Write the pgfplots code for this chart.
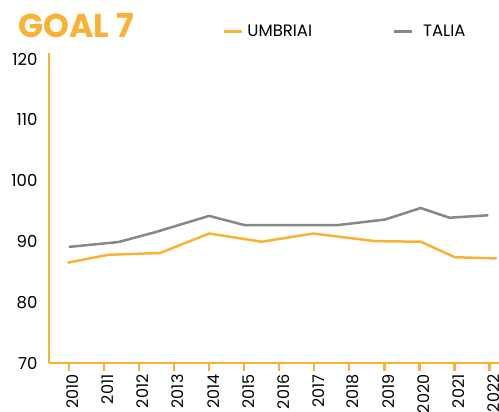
\documentclass[border=0pt]{standalone}
\usepackage{pgfplots}
\pgfplotsset{compat=1.18}
\usepackage{fontspec}
\setmainfont{Poppins}
\definecolor{goalorange}{HTML}{F9B233}
\definecolor{italiagray}{HTML}{878787}

\begin{document}
\begin{tikzpicture}
\begin{axis}[
  at={(0pt,0pt)}, anchor=south west,
  scale only axis,
  width=450pt, height=310pt,
  xmin=-0.571, xmax=12.275,
  ymin=70, ymax=121,
  axis lines=left,
  axis line style={goalorange, line width=2.5pt, -},
  xtick={0,1,2,3,4,5,6,7,8,9,10,11,12},
  xticklabels={2010,2011,2012,2013,2014,2015,2016,2017,2018,2019,2020,2021,2022},
  ytick={70,80,90,100,110,120},
  tick align=outside,
  major tick length=8pt,
  xtick style={goalorange, line width=2.5pt},
  ytick style={draw=none},
  x tick label style={rotate=90, anchor=east, yshift=-4pt,
    font=\fontsize{16}{16}\selectfont},
  y tick label style={font=\fontsize{16.5}{16.5}\selectfont},
  /pgf/number format/assume math mode=true,
  legend columns=2,
  legend style={at={(rel axis cs:0.385,1.068)}, anchor=west, draw=none,
    fill=none, font=\fontsize{16.5}{16.5}\selectfont, inner sep=0pt,
    /tikz/every even column/.append style={column sep=78pt}},
  legend image code/.code={\draw[#1, line width=3pt] (0pt,0pt) -- (18pt,0pt);},
  clip=false,
]
\addplot[goalorange, line width=2.5pt] coordinates {
  (-0.04,86.5) (1.12,87.8) (2.60,88.1) (4.00,91.3) (5.50,89.95)
  (6.97,91.3) (8.74,90.05) (10.04,89.95) (11.02,87.4) (12.21,87.2)};
\addplot[italiagray, line width=2.5pt] coordinates {
  (0.00,89.1) (1.41,89.9) (2.45,91.5) (4.00,94.2) (5.00,92.7)
  (7.69,92.7) (9.02,93.6) (10.04,95.5) (10.86,93.9) (11.97,94.3)};
\legend{\hspace{2pt}UMBRIAI, \hspace{8pt}TALIA}
\end{axis}
\node[anchor=base west, text=goalorange, inner sep=0pt,
  font=\fontsize{33}{33}\selectfont\bfseries] at (-31pt,325pt) {GOAL 7};
\pgfresetboundingbox
\useasboundingbox (-49pt,-49pt) rectangle (450pt,363pt);
\end{tikzpicture}
\end{document}
